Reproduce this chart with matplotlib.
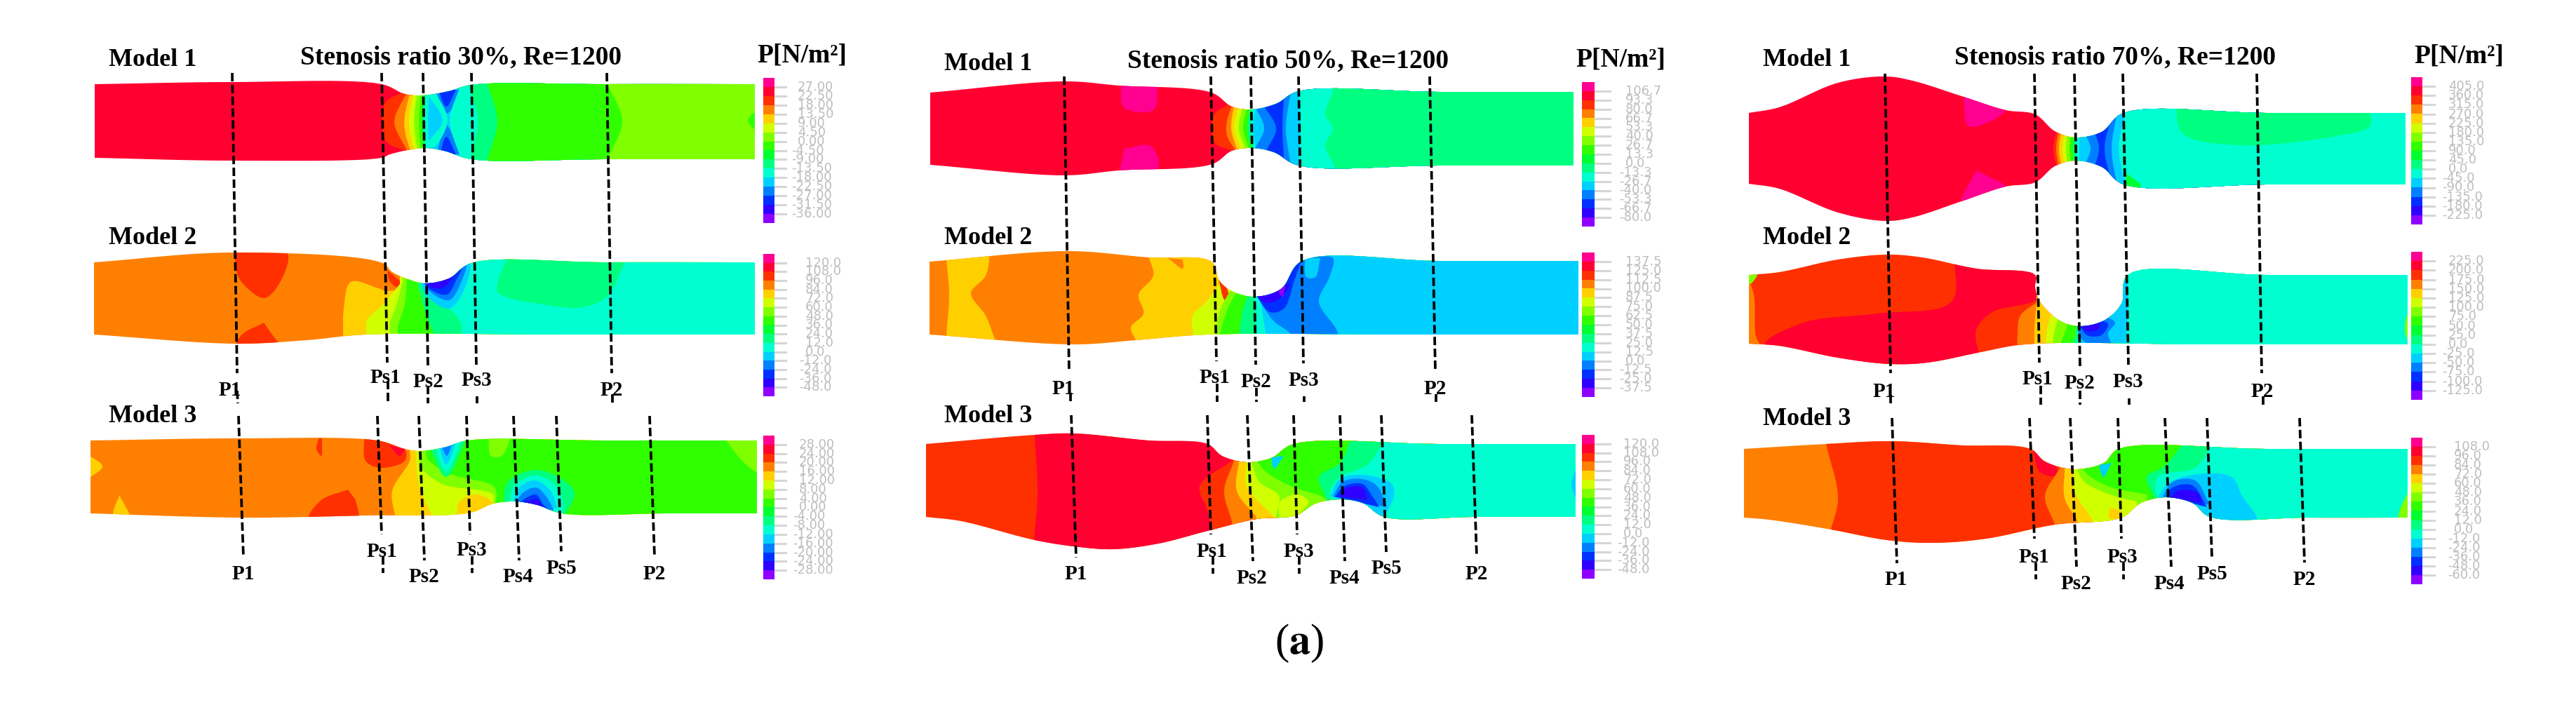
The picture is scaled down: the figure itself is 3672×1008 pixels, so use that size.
import numpy as np
import matplotlib
matplotlib.use("Agg")
import matplotlib.pyplot as plt

plt.rcParams["mathtext.fontset"] = "stix"
SERIF = "Liberation Serif"

# contour colours, top to bottom of the legend bars
BAR_COLORS = ["#ff0090", "#ff0030", "#ff3000", "#ff8000", "#ffd000", "#d0ff00", "#80ff00", "#30ff00",
              "#00ff30", "#00ff80", "#00ffd0", "#00d0ff", "#0080ff", "#0030ff", "#3000ff", "#9000ff"]
P, R, OR, O, Y, YG, L, G, G2, SG, T, C, B, DB, I, V = BAR_COLORS

# -----------------------------
# Legend labels
# -----------------------------
LABELS_30_M1 = ["27.00", "22.50", "18.00", "13.50", "9.00", "4.50", "0.00", "-4.50", "-9.00", "-13.50", "-18.00", "-22.50", "-27.00", "-31.50", "-36.00"]
LABELS_30_M2 = ["120.0", "108.0", "96.0", "84.0", "72.0", "60.0", "48.0", "36.0", "24.0", "12.0", "0.0", "-12.0", "-24.0", "-36.0", "-48.0"]
LABELS_30_M3 = ["28.00", "24.00", "20.00", "16.00", "12.00", "8.00", "4.00", "0.00", "-4.00", "-8.00", "-12.00", "-16.00", "-20.00", "-24.00", "-28.00"]
LABELS_50_M1 = ["106.7", "93.3", "80.0", "66.7", "53.3", "40.0", "26.7", "13.3", "0.0", "-13.3", "-26.7", "-40.0", "-53.3", "-66.7", "-80.0"]
LABELS_50_M2 = ["137.5", "125.0", "112.5", "100.0", "87.5", "75.0", "62.5", "50.0", "37.5", "25.0", "12.5", "0.0", "-12.5", "-25.0", "-37.5"]
LABELS_50_M3 = LABELS_30_M2
LABELS_70_M1 = ["405.0", "360.0", "315.0", "270.0", "225.0", "180.0", "135.0", "90.0", "45.0", "0.0", "-45.0", "-90.0", "-135.0", "-180.0", "-225.0"]
LABELS_70_M2 = ["225.0", "200.0", "175.0", "150.0", "125.0", "100.0", "75.0", "50.0", "25.0", "0.0", "-25.0", "-50.0", "-75.0", "-100.0", "-125.0"]
LABELS_70_M3 = ["108.0", "96.0", "84.0", "72.0", "60.0", "48.0", "36.0", "24.0", "12.0", "0.0", "-12.0", "-24.0", "-36.0", "-48.0", "-60.0"]

# -----------------------------
# Stenosis 30%
# bands are (colour, outline, fill to the right of the outline)
# -----------------------------
UP_30_M1 = [(135, 120), (331, 117), (544, 120), (577, 134), (603, 136), (640, 130), (672, 121), (860, 120), (1076, 120)]
LOW_30_M1 = [(135, 225), (331, 229), (544, 225), (556, 220), (603, 211), (633, 215), (672, 227), (860, 227), (1076, 227)]
BANDS_30_M1 = [
    (OR, [(577, 130), (549, 147), (549, 200), (577, 215)], True),
    (O, [(581, 130), (563, 167), (563, 180), (581, 216)], True),
    (Y, [(585, 130), (577, 165), (577, 185), (585, 216)], True),
    (YG, [(590, 130), (583, 172), (590, 216)], True),
    (L, [(595, 130), (590, 172), (595, 216)], True),
    (G, [(600, 130), (597, 172), (600, 216)], True),
    (SG, [(604, 130), (602, 172), (604, 216)], True),
    (T, [(607, 130), (605, 172), (607, 216)], True),
    (C, [(612, 130), (610, 172), (612, 216)], True),
    (B, [(611, 128), (636, 162), (660, 128)], False),
    (DB, [(625, 128), (636, 152), (650, 128)], False),
    (B, [(622, 220), (636, 178), (655, 220)], False),
    (DB, [(627, 220), (636, 195), (650, 220)], False),
    (T, [(608, 133), (631, 172), (608, 207), (618, 210), (638, 172), (622, 133)], False),
    (T, [(655, 125), (641, 172), (655, 220)], True),
    (SG, [(667, 120), (681, 173), (670, 227)], True),
    (G, [(695, 120), (709, 173), (695, 227)], True),
    (L, [(866, 120), (887, 173), (866, 227)], True),
    (G, [(1078, 157), (1066, 172), (1078, 187)], False),
]

UP_30_M2 = [(134, 374), (335, 360), (545, 375), (559, 388), (584, 399), (606, 404), (640, 397), (672, 375), (860, 374), (1076, 374)]
LOW_30_M2 = [(134, 477), (335, 490), (437, 485), (521, 477), (800, 477), (1076, 477)]
BANDS_30_M2 = [
    (OR, [(335, 355), (409, 360), (402, 397), (377, 425), (345, 403), (335, 383)], False),
    (OR, [(376, 460), (345, 477), (336, 495), (397, 492), (388, 477)], False),
    (Y, [(543, 412), (500, 402), (490, 440), (489, 480)], True),
    (O, [(540, 372), (543, 412), (570, 412), (595, 395)], False),
    (OR, [(552, 385), (555, 400), (567, 410), (572, 402)], False),
    (YG, [(570, 405), (543, 437), (523, 457), (523, 480)], True),
    (L, [(574, 400), (565, 435), (556, 460), (556, 480)], True),
    (G, [(580, 400), (577, 433), (567, 467), (567, 480)], True),
    (SG, [(595, 403), (607, 447), (620, 480)], True),
    (T, [(610, 420), (640, 440), (657, 460), (658, 480)], True),
    (C, [(600, 400), (607, 420), (640, 440), (663, 410), (668, 370), (620, 370)], False),
    (B, [(604, 402), (612, 415), (640, 428), (657, 403), (664, 370), (620, 370)], False),
    (DB, [(603, 402), (612, 412), (637, 420), (650, 400), (658, 378), (620, 378)], False),
    (I, [(605, 403), (615, 410), (632, 410), (645, 393), (625, 395)], False),
    (SG, [(722, 370), (710, 400), (710, 417), (780, 435), (830, 438), (865, 423), (893, 370)], False),
]

UP_30_M3 = [(129, 628), (342, 625), (538, 628), (577, 640), (599, 643), (633, 638), (667, 628), (860, 628), (1079, 628)]
LOW_30_M3 = [(129, 732), (345, 738), (521, 735), (670, 731), (703, 718), (735, 715), (766, 720), (801, 732), (950, 732), (1079, 732)]
BANDS_30_M3 = [
    (Y, [(125, 648), (146, 665), (125, 683)], False),
    (Y, [(170, 706), (162, 735), (186, 735)], False),
    (OR, [(454, 625), (451, 640), (458, 650), (459, 625)], False),
    (OR, [(496, 698), (458, 713), (440, 740), (510, 740), (507, 713)], False),
    (OR, [(519, 625), (521, 657), (542, 667), (577, 657), (577, 640), (540, 625)], False),
    (R, [(555, 635), (570, 650), (577, 640)], False),
    (Y, [(584, 640), (584, 657), (559, 700), (564, 740)], True),
    (YG, [(593, 640), (595, 680), (600, 700), (618, 740)], True),
    (L, [(598, 640), (600, 665), (630, 690), (703, 705), (703, 720)], True),
    (G, [(606, 640), (610, 655), (640, 675), (705, 695), (707, 720)], True),
    (Y, [(651, 735), (655, 715), (680, 705), (703, 718), (670, 735)], False),
    (SG, [(612, 638), (636, 680), (665, 625)], False),
    (T, [(620, 638), (636, 672), (660, 625)], False),
    (C, [(626, 638), (636, 662), (652, 625)], False),
    (B, [(630, 638), (637, 650), (645, 630)], False),
    (L, [(696, 625), (700, 650), (715, 650), (728, 625)], False),
    (L, [(1033, 625), (1061, 660), (1082, 673), (1082, 625)], False),
    (SG, [(717, 720), (724, 687), (763, 670), (801, 683), (819, 703), (805, 735)], False),
    (T, [(725, 718), (735, 690), (763, 678), (790, 690), (802, 715), (802, 735)], False),
    (C, [(731, 718), (740, 695), (763, 685), (785, 700), (795, 725)], False),
    (B, [(735, 718), (745, 703), (764, 695), (778, 707), (790, 728)], False),
    (DB, [(738, 718), (750, 710), (764, 705), (775, 720), (785, 728)], False),
    (I, [(741, 718), (755, 714), (766, 712), (775, 725)], False),
]

# -----------------------------
# Stenosis 50%
# -----------------------------
UP_50_M1 = [(1326, 132), (1517, 116), (1595, 122), (1727, 132), (1756, 152), (1784, 156), (1819, 148), (1851, 130), (2050, 131), (2243, 131)]
LOW_50_M1 = [(1326, 235), (1517, 250), (1595, 243), (1728, 234), (1756, 215), (1784, 211), (1816, 217), (1851, 236), (2050, 236), (2243, 236)]
BANDS_50_M1 = [
    (P, [(1598, 115), (1602, 153), (1644, 157), (1651, 120)], False),
    (P, [(1602, 212), (1640, 208), (1651, 238), (1595, 250)], False),
    (OR, [(1749, 150), (1731, 163), (1731, 203), (1756, 215)], True),
    (O, [(1756, 150), (1749, 173), (1749, 193), (1760, 213)], True),
    (Y, [(1759, 150), (1755, 183), (1763, 213)], True),
    (YG, [(1766, 150), (1759, 183), (1769, 213)], True),
    (L, [(1772, 150), (1766, 183), (1775, 213)], True),
    (G, [(1778, 150), (1772, 183), (1780, 213)], True),
    (SG, [(1783, 150), (1778, 183), (1784, 213)], True),
    (T, [(1786, 150), (1782, 183), (1787, 213)], True),
    (C, [(1790, 150), (1786, 183), (1790, 213)], True),
    (B, [(1788, 150), (1802, 183), (1788, 213)], True),
    (DB, [(1801, 150), (1819, 183), (1805, 215)], True),
    (B, [(1830, 140), (1828, 183), (1830, 225)], True),
    (C, [(1840, 130), (1833, 183), (1840, 236)], True),
    (T, [(1851, 131), (1854, 183), (1851, 236)], True),
    (SG, [(1900, 131), (1889, 163), (1900, 183), (1889, 207), (1902, 236)], True),
]

UP_50_M2 = [(1325, 373), (1521, 358), (1637, 367), (1727, 373), (1738, 400), (1756, 415), (1788, 423), (1826, 412), (1856, 372), (2050, 372), (2250, 372)]
LOW_50_M2 = [(1325, 477), (1531, 491), (1619, 485), (1721, 477), (2000, 477), (2250, 477)]
BANDS_50_M2 = [
    (Y, [(1349, 368), (1353, 420), (1349, 480), (1349, 495), (1425, 495), (1419, 485), (1405, 450), (1384, 418), (1405, 393), (1412, 355)], False),
    (Y, [(1637, 365), (1644, 393), (1623, 420), (1630, 447), (1612, 467), (1619, 485)], True),
    (O, [(1665, 368), (1686, 383), (1686, 370)], False),
    (YG, [(1738, 405), (1720, 430), (1700, 450), (1701, 480)], True),
    (OR, [(1737, 398), (1746, 428), (1752, 425), (1745, 400)], False),
    (L, [(1755, 412), (1740, 440), (1732, 480)], True),
    (G, [(1765, 412), (1750, 440), (1738, 480)], True),
    (SG, [(1780, 418), (1772, 440), (1766, 480)], True),
    (T, [(1786, 418), (1790, 450), (1790, 480)], True),
    (C, [(1795, 418), (1800, 450), (1805, 480)], True),
    (B, [(1790, 420), (1815, 457), (1840, 477), (1840, 490), (1910, 490), (1905, 470), (1880, 430), (1895, 395), (1900, 368), (1860, 368)], False),
    (C, [(1860, 368), (1862, 395), (1875, 395), (1882, 368)], False),
    (DB, [(1790, 420), (1810, 445), (1830, 440), (1845, 400), (1855, 368), (1830, 400)], False),
    (I, [(1790, 422), (1805, 432), (1825, 425), (1838, 405), (1825, 410)], False),
    (V, [(1820, 412), (1828, 423), (1832, 408)], False),
]

UP_50_M3 = [(1320, 633), (1475, 620), (1531, 618), (1637, 628), (1721, 633), (1742, 650), (1777, 659), (1812, 653), (1844, 633), (2050, 633), (2246, 633)]
LOW_50_M3 = [(1320, 737), (1370, 743), (1475, 770), (1539, 780), (1588, 783), (1651, 775), (1721, 757), (1791, 740), (1847, 735),
             (1875, 718), (1910, 712), (1942, 717), (1973, 737), (2100, 737), (2246, 737)]
BANDS_50_M3 = [
    (R, [(1475, 620), (1479, 707), (1474, 767)], True),
    (OR, [(1756, 657), (1710, 693), (1721, 727), (1728, 757)], True),
    (O, [(1759, 657), (1745, 700), (1756, 743)], True),
    (Y, [(1766, 657), (1763, 700), (1791, 737)], True),
    (YG, [(1777, 659), (1777, 693), (1816, 737)], True),
    (L, [(1784, 660), (1795, 687), (1823, 707), (1819, 737)], True),
    (G, [(1791, 657), (1805, 673), (1840, 693), (1882, 707), (1896, 715)], True),
    (YG, [(1823, 737), (1825, 715), (1850, 705), (1865, 715), (1847, 737)], False),
    (C, [(1812, 652), (1816, 668), (1830, 650)], False),
    (SG, [(1925, 628), (1910, 660), (1880, 680), (1890, 710)], True),
    (T, [(1970, 633), (1949, 663), (1910, 680), (1896, 707), (1973, 737)], True),
    (C, [(1896, 707), (1910, 683), (1945, 677), (1984, 690), (1987, 707), (1973, 737)], False),
    (B, [(1900, 708), (1914, 687), (1942, 683), (1963, 693), (1977, 723)], False),
    (DB, [(1903, 708), (1917, 693), (1942, 690), (1956, 707), (1966, 723)], False),
    (I, [(1910, 708), (1917, 697), (1942, 695), (1949, 713)], False),
    (C, [(2250, 660), (2240, 690), (2250, 720)], False),
]

# -----------------------------
# Stenosis 70%
# -----------------------------
UP_70_M1 = [(2493, 161), (2536, 153), (2620, 118), (2687, 109), (2726, 115), (2796, 137), (2859, 157), (2901, 163), (2929, 187), (2958, 196),
            (2996, 188), (3027, 161), (3230, 161), (3429, 161)]
LOW_70_M1 = [(2493, 262), (2536, 269), (2620, 303), (2687, 315), (2726, 310), (2796, 287), (2859, 266), (2901, 260), (2929, 237), (2958, 229),
             (2996, 238), (3027, 263), (3230, 263), (3429, 263)]
BANDS_70_M1 = [
    (P, [(2799, 135), (2806, 180), (2855, 162), (2860, 150)], False),
    (P, [(2817, 243), (2796, 290), (2862, 272), (2855, 262)], False),
    (OR, [(2932, 185), (2927, 212), (2932, 240)], True),
    (O, [(2935, 185), (2931, 212), (2935, 240)], True),
    (Y, [(2939, 185), (2935, 212), (2939, 240)], True),
    (YG, [(2944, 185), (2940, 212), (2944, 240)], True),
    (L, [(2948, 185), (2945, 212), (2948, 240)], True),
    (G, [(2953, 185), (2950, 212), (2953, 240)], True),
    (SG, [(2957, 190), (2955, 212), (2957, 235)], True),
    (T, [(2960, 190), (2959, 212), (2960, 235)], True),
    (C, [(2964, 190), (2964, 212), (2964, 235)], True),
    (B, [(2972, 190), (2980, 212), (2972, 235)], True),
    (DB, [(2985, 185), (2992, 212), (2985, 240)], True),
    (B, [(3010, 165), (3000, 212), (3010, 260)], True),
    (C, [(3018, 160), (3010, 212), (3018, 265)], True),
    (T, [(3030, 160), (3020, 212), (3030, 265)], True),
    (SG, [(3101, 155), (3111, 190), (3188, 207), (3336, 193), (3378, 180), (3378, 155)], False),
    (G2, [(3031, 247), (3052, 265), (3031, 268)], False),
]

UP_70_M2 = [(2493, 392), (2536, 388), (2620, 370), (2690, 363), (2740, 367), (2817, 383), (2901, 392), (2901, 410), (2908, 430), (2936, 457),
            (2964, 465), (2999, 457), (3024, 433), (3033, 392), (3230, 392), (3432, 392)]
LOW_70_M2 = [(2493, 490), (2536, 493), (2620, 510), (2694, 519), (2747, 517), (2824, 502), (2887, 491), (3150, 491), (3432, 491)]
BANDS_70_M2 = [
    (O, [(2490, 392), (2500, 420), (2503, 480), (2510, 495), (2490, 495)], False),
    (L, [(2490, 388), (2505, 390), (2495, 405), (2490, 405)], False),
    (R, [(2785, 360), (2782, 430), (2676, 447), (2571, 460), (2515, 492), (2694, 525), (2824, 510), (2820, 500), (2817, 470), (2840, 445), (2905, 425), (2905, 385)], False),
    (O, [(2905, 430), (2880, 450), (2876, 475), (2878, 495), (2905, 495)], False),
    (Y, [(2903, 430), (2900, 470), (2900, 495)], True),
    (YG, [(2925, 445), (2918, 470), (2916, 495)], True),
    (L, [(2935, 450), (2928, 475), (2925, 495)], True),
    (G, [(2950, 455), (2942, 478), (2935, 495)], True),
    (SG, [(2960, 460), (2958, 480), (2950, 495)], True),
    (T, [(2962, 460), (2962, 480), (2958, 495)], True),
    (C, [(2963, 460), (2966, 480), (2962, 495)], True),
    (B, [(2960, 462), (2965, 480), (2975, 490), (2985, 495), (3010, 495), (3005, 475), (3015, 460), (3000, 450)], False),
    (DB, [(2963, 462), (2975, 478), (2995, 478), (3005, 462), (2990, 455)], False),
    (I, [(2963, 462), (2975, 472), (2990, 470), (2995, 458)], False),
    (T, [(3033, 388), (3033, 450), (3030, 495)], True),
    (L, [(3436, 430), (3428, 470), (3436, 495)], False),
]

UP_70_M3 = [(2486, 640), (2603, 633), (2697, 629), (2796, 635), (2894, 640), (2915, 658), (2957, 669), (2999, 660), (3020, 640), (3230, 640), (3432, 640)]
LOW_70_M3 = [(2486, 738), (2522, 741), (2610, 755), (2690, 770), (2754, 774), (2831, 768), (2929, 748), (3024, 738), (3052, 717), (3087, 709),
             (3125, 717), (3150, 737), (3290, 738), (3432, 738)]
BANDS_70_M3 = [
    (OR, [(2603, 633), (2620, 710), (2610, 755)], True),
    (R, [(2897, 640), (2908, 673), (2929, 678), (2932, 668), (2915, 650)], False),
    (O, [(2936, 668), (2915, 707), (2929, 747)], True),
    (Y, [(2943, 670), (2943, 710), (2961, 742)], True),
    (YG, [(2956, 670), (2957, 700), (2982, 740)], True),
    (L, [(2961, 670), (2971, 687), (3013, 707), (3046, 715)], True),
    (G, [(2965, 665), (2980, 680), (3010, 695), (3060, 705)], True),
    (YG, [(2990, 740), (2990, 720), (3010, 708), (3030, 715), (3024, 740)], False),
    (Y, [(3006, 740), (3008, 725), (3025, 730), (3020, 740)], False),
    (C, [(2992, 663), (2998, 680), (3010, 660)], False),
    (SG, [(3110, 635), (3085, 665), (3060, 680), (3070, 708)], True),
    (T, [(3150, 640), (3129, 667), (3076, 680), (3076, 708), (3153, 737)], True),
    (C, [(3076, 708), (3090, 690), (3125, 677), (3181, 680), (3196, 707), (3217, 742), (3153, 742)], False),
    (B, [(3083, 708), (3097, 687), (3129, 685), (3150, 720)], False),
    (DB, [(3087, 708), (3097, 695), (3125, 692), (3146, 723)], False),
    (I, [(3094, 710), (3104, 700), (3132, 702), (3139, 717)], False),
    (L, [(3436, 695), (3420, 730), (3420, 742), (3436, 742)], False),
]

# -----------------------------
# Section lines and their labels
# -----------------------------
LINES_30 = [(331, 104, 338, 532), (544, 104, 552, 517), (603, 104, 610, 522), (672, 104, 679, 520), (865, 104, 872, 532),
            (338, 557, 339, 575), (553, 543, 553, 575), (610, 550, 610, 575), (680, 565, 680, 575), (873, 562, 873, 575),
            (340, 593, 347, 795), (538, 593, 544, 762), (597, 593, 605, 799), (665, 593, 670, 762), (732, 593, 740, 799), (793, 593, 800, 786), (926, 593, 933, 793),
            (546, 793, 546, 817), (673, 793, 673, 817)]
NAMES_30 = [("P1", 328, 556), ("Ps1", 549, 539), ("Ps2", 610, 545), ("Ps3", 679, 543), ("P2", 872, 556),
            ("P1", 347, 818), ("Ps1", 544, 786), ("Ps2", 604, 823), ("Ps3", 672, 785), ("Ps4", 738, 823), ("Ps5", 800, 810), ("P2", 933, 818)]

LINES_50 = [(1517, 109, 1524, 530), (1726, 109, 1734, 515), (1783, 109, 1790, 520), (1851, 109, 1858, 518), (2038, 109, 2046, 530),
            (1526, 560, 1526, 573), (1735, 547, 1735, 573), (1791, 553, 1791, 573), (1859, 565, 1859, 573), (2047, 562, 2047, 573),
            (1527, 592, 1534, 795), (1721, 592, 1726, 762), (1778, 592, 1786, 800), (1844, 592, 1849, 762), (1910, 592, 1917, 800), (1969, 592, 1976, 787), (2098, 592, 2105, 794),
            (1729, 793, 1729, 818), (1852, 793, 1852, 818)]
NAMES_50 = [("P1", 1516, 554), ("Ps1", 1731, 539), ("Ps2", 1790, 544), ("Ps3", 1858, 542), ("P2", 2046, 554),
            ("P1", 1534, 819), ("Ps1", 1727, 787), ("Ps2", 1784, 824), ("Ps3", 1851, 786), ("Ps4", 1916, 824), ("Ps5", 1976, 811), ("P2", 2105, 819)]

LINES_70 = [(2687, 105, 2695, 532), (2900, 105, 2907, 517), (2957, 105, 2965, 522), (3026, 105, 3034, 520), (3217, 105, 3224, 532),
            (2695, 563, 2695, 577), (2909, 550, 2909, 577), (2965, 557, 2965, 577), (3035, 568, 3035, 577), (3226, 565, 3226, 577),
            (2697, 596, 2704, 803), (2893, 596, 2900, 768), (2951, 596, 2960, 808), (3019, 596, 3024, 768), (3086, 596, 3095, 808), (3146, 596, 3153, 794), (3278, 596, 3285, 802),
            (2902, 802, 2902, 826), (3027, 802, 3027, 826)]
NAMES_70 = [("P1", 2686, 558), ("Ps1", 2904, 540), ("Ps2", 2964, 546), ("Ps3", 3033, 544), ("P2", 3225, 558),
            ("P1", 2703, 827), ("Ps1", 2899, 794), ("Ps2", 2959, 832), ("Ps3", 3025, 794), ("Ps4", 3092, 832), ("Ps5", 3153, 818), ("P2", 3285, 827)]

TITLES = ["Stenosis ratio 30%, Re=1200", "Stenosis ratio 50%, Re=1200", "Stenosis ratio 70%, Re=1200"]
MODEL_NAMES = ["Model 1", "Model 2", "Model 3"]

MODELS = [
    (UP_30_M1, LOW_30_M1, R, BANDS_30_M1), (UP_30_M2, LOW_30_M2, O, BANDS_30_M2), (UP_30_M3, LOW_30_M3, O, BANDS_30_M3),
    (UP_50_M1, LOW_50_M1, R, BANDS_50_M1), (UP_50_M2, LOW_50_M2, O, BANDS_50_M2), (UP_50_M3, LOW_50_M3, OR, BANDS_50_M3),
    (UP_70_M1, LOW_70_M1, R, BANDS_70_M1), (UP_70_M2, LOW_70_M2, OR, BANDS_70_M2), (UP_70_M3, LOW_70_M3, O, BANDS_70_M3),
]

# bar left, bar right, tick end, then (top, bottom, label x, labels) per model
BARS = [
    (1088, 1104, 1120, [(111, 318, 1137, LABELS_30_M1), (362, 565, 1148, LABELS_30_M2), (621, 826, 1139, LABELS_30_M3)]),
    (2255, 2273, 2295, [(117, 323, 2317, LABELS_50_M1), (360, 566, 2317, LABELS_50_M2), (620, 825, 2314, LABELS_50_M3)]),
    (3437, 3453, 3470, [(110, 320, 3490, LABELS_70_M1), (359, 570, 3490, LABELS_70_M2), (624, 833, 3498, LABELS_70_M3)]),
]

# title x/y, P label x/y, model label left x, model label y
HEADS = [
    (657, 82, 1143, 79, 155, [85, 340, 594]),
    (1836, 87, 2310, 85, 1346, [91, 340, 594]),
    (3015, 82, 3505, 80, 2513, [86, 340, 598]),
]


def smooth(pts):
    # centripetal Catmull-Rom through the read points, keeps the walls from wobbling
    p = np.array(pts, float)
    p = np.vstack([2 * p[0] - p[1], p, 2 * p[-1] - p[-2]])
    out = []
    for i in range(1, len(p) - 2):
        p0, p1, p2, p3 = p[i - 1], p[i], p[i + 1], p[i + 2]
        t0 = 0.0
        t1 = t0 + np.linalg.norm(p1 - p0) ** 0.5 + 1e-6
        t2 = t1 + np.linalg.norm(p2 - p1) ** 0.5 + 1e-6
        t3 = t2 + np.linalg.norm(p3 - p2) ** 0.5 + 1e-6
        t = np.linspace(t1, t2, 12, endpoint=False)[:, None]
        a1 = (t1 - t) / (t1 - t0) * p0 + (t - t0) / (t1 - t0) * p1
        a2 = (t2 - t) / (t2 - t1) * p1 + (t - t1) / (t2 - t1) * p2
        a3 = (t3 - t) / (t3 - t2) * p2 + (t - t2) / (t3 - t2) * p3
        b1 = (t2 - t) / (t2 - t0) * a1 + (t - t0) / (t2 - t0) * a2
        b2 = (t3 - t) / (t3 - t1) * a2 + (t - t1) / (t3 - t1) * a3
        out.append((t2 - t) / (t2 - t1) * b1 + (t - t1) / (t2 - t1) * b2)
    out.append(p[-2][None])
    return np.vstack(out)


fig = plt.figure(figsize=(36.72, 10.08), dpi=100)
ax = fig.add_axes([0, 0, 1, 1])

# -----------------------------
# Contour fields
# -----------------------------
for upper, lower, base, bands in MODELS:
    outline = np.vstack([smooth(upper), smooth(lower)[::-1]])
    wall = ax.fill(outline[:, 0], outline[:, 1], color=base, lw=0, zorder=1)[0]
    far = outline[:, 0].max() + 20

    for color, pts, to_right in bands:
        curve = smooth(pts)
        if to_right:
            first, last = curve[0], curve[-1]
            curve = np.vstack([[first[0], first[1] - 80], curve, [last[0], last[1] + 80],
                               [far, last[1] + 80], [far, first[1] - 80]])
        patch = ax.fill(curve[:, 0], curve[:, 1], color=color, lw=0, zorder=2)[0]
        patch.set_clip_path(wall)

# -----------------------------
# Section lines
# -----------------------------
for lines in [LINES_30, LINES_50, LINES_70]:
    for x0, y0, x1, y1 in lines:
        ax.plot([x0, x1], [y0, y1], color="black", lw=2.7, dashes=(3.2, 1.3), zorder=3)

for names in [NAMES_30, NAMES_50, NAMES_70]:
    for name, x, y in names:
        ax.text(x, y, name, family=SERIF, weight="bold", fontsize=21, ha="center", va="center", color="black", zorder=4)

# -----------------------------
# Legend bars
# -----------------------------
for left, right, tick_end, rows in BARS:
    for top, bottom, label_x, labels in rows:
        cell = (bottom - top) / len(BAR_COLORS)
        ax.imshow(np.array([matplotlib.colors.to_rgb(c) for c in BAR_COLORS])[:, None, :],
                  extent=(left, right, bottom, top), aspect="auto", interpolation="nearest", zorder=2)
        for i, label in enumerate(labels):
            y = top + cell * (i + 1)
            ax.plot([right, tick_end], [y, y], color="#d6d6d6", lw=2.2, zorder=1)
            # minus signs hang out to the left of the column
            x = label_x - 9 if label.startswith("-") else label_x
            ax.text(x, y, label, fontsize=13, ha="left", va="center", color="#bdbdbd", zorder=4)

ax.set_xlim(0, 3672)
ax.set_ylim(1008, 0)
ax.axis("off")

# -----------------------------
# Headings
# -----------------------------
for title, (tx, ty, px, py, mx, model_ys) in zip(TITLES, HEADS):
    ax.text(tx, ty, title, family=SERIF, weight="bold", fontsize=27, ha="center", va="center", color="black")
    ax.text(px, py, "P[N/m²]", family=SERIF, weight="bold", fontsize=27, ha="center", va="center", color="black")
    for name, my in zip(MODEL_NAMES, model_ys):
        ax.text(mx, my, name, family=SERIF, weight="bold", fontsize=26, ha="left", va="center", color="black")

ax.text(1852, 917, r"($\mathbf{a}$)", family=SERIF, fontsize=44, ha="center", va="center", color="black")

fig.savefig("out.png", dpi=100, facecolor="white")
plt.close(fig)
